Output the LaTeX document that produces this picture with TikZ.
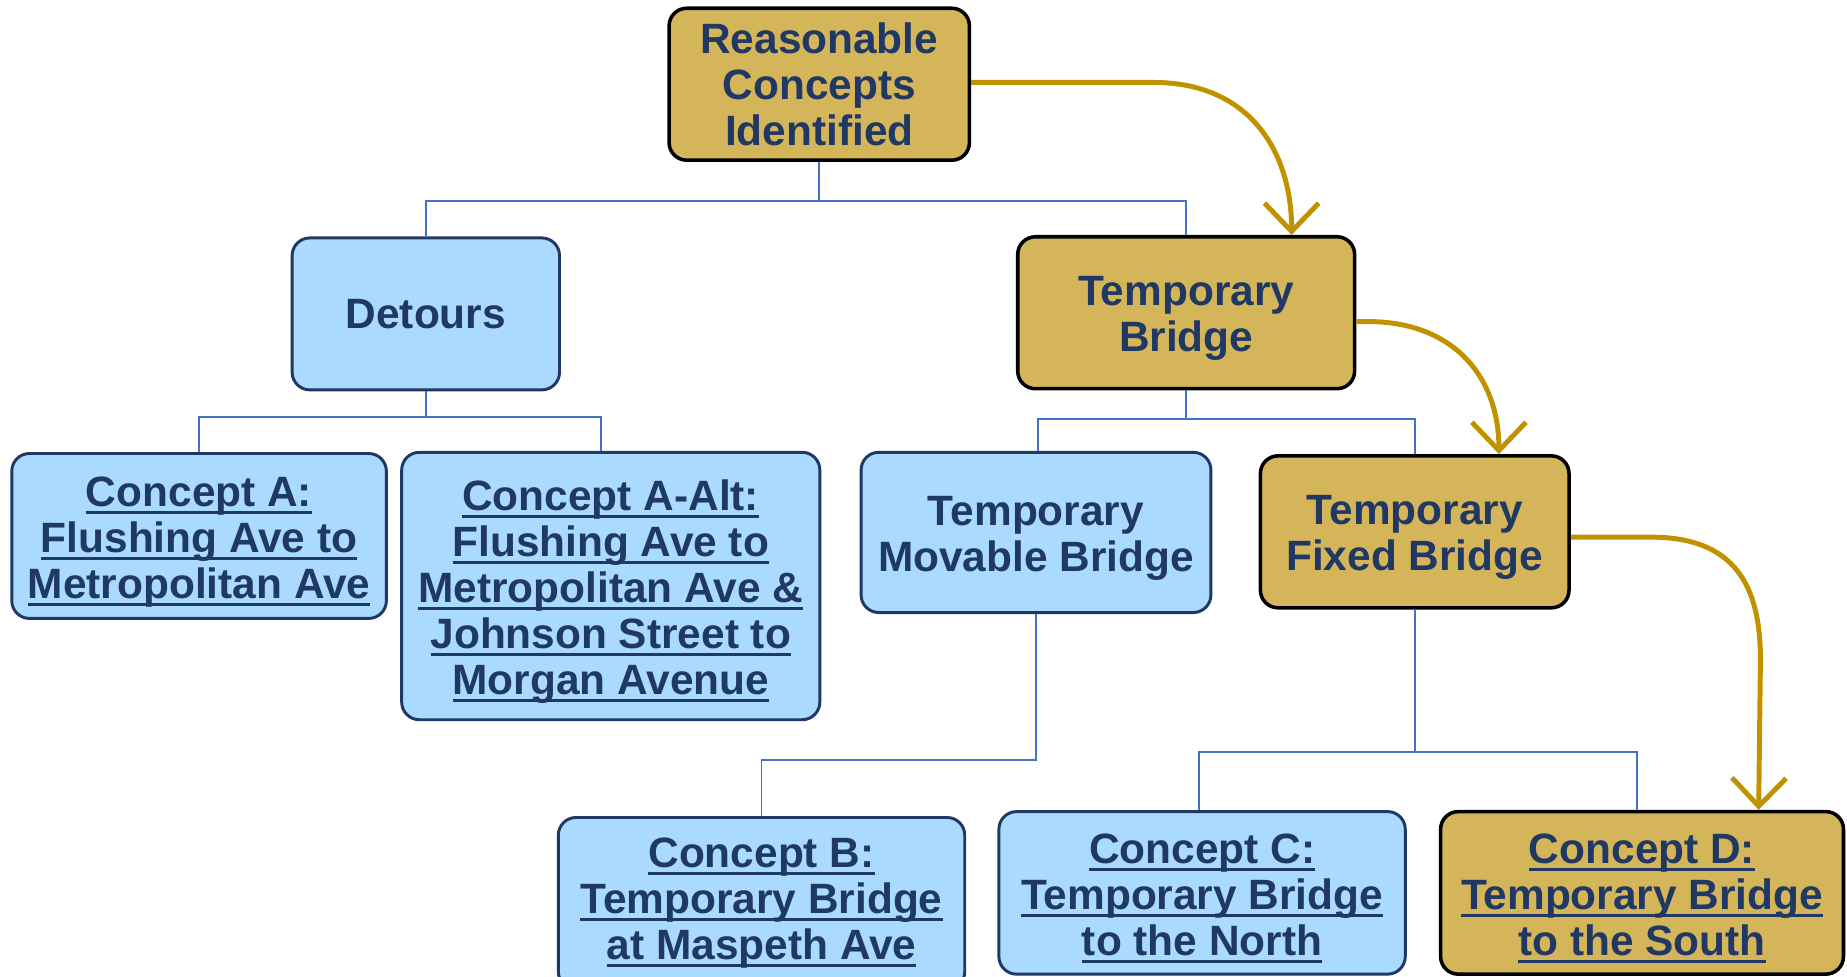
\documentclass[tikz,border=0pt]{standalone}
\usepackage{fontspec}
\setmainfont{Liberation Sans}
\usetikzlibrary{arrows.meta,calc}
\definecolor{goldfill}{RGB}{212,181,90}
\definecolor{bluefill}{RGB}{170,218,255}
\definecolor{navy}{RGB}{31,56,100}
\definecolor{connblue}{RGB}{68,114,196}
\definecolor{arrowgold}{RGB}{193,146,0}
\newcommand{\ulin}[1]{\setbox0\hbox{#1}\rlap{\rule[-3.2pt]{\wd0}{1.3pt}}\box0}
\newcommand{\lowr}{\rule{0pt}{17.5pt}}
\begin{document}
\begin{tikzpicture}[x=0.5pt,y=-0.5pt,
 box/.style={rounded corners=7.5pt, align=center, font=\fontsize{18}{19.5}\selectfont\bfseries, text=navy, inner sep=0pt},
 goldbox/.style={box, fill=goldfill, draw=black, line width=1.5pt},
 bluebox/.style={box, fill=bluefill, draw=navy, line width=1.25pt},
 conn/.style={draw=connblue, line width=0.8pt},
 garrow/.style={draw=arrowgold, line width=2.1pt, -{Straight Barb[length=12pt,width=23pt]}}]
\useasboundingbox (0,0) rectangle (1568,829);

\node[goldbox, minimum width=127.5pt, minimum height=64.5pt] (rc) at (695.5,71.5) {Reasonable\\Concepts\\Identified};
\node[bluebox, minimum width=113.5pt, minimum height=64.5pt] (det) at (361.5,266.5) {Detours};
\node[goldbox, minimum width=143pt, minimum height=64.5pt] (tb) at (1007,265.5) {\lowr Temporary\\Bridge};
\node[bluebox, minimum width=159pt, minimum height=70pt] (ca) at (169,455) {\lowr\ulin{Concept A:}\\\ulin{Flushing Ave to}\\\ulin{Metropolitan Ave}};
\node[bluebox, minimum width=177.5pt, minimum height=113.5pt] (caa) at (518.5,497.5) {\lowr\ulin{Concept A-Alt:}\\\ulin{Flushing Ave to}\\\ulin{Metropolitan Ave \&}\\\ulin{Johnson Street to}\\\ulin{Morgan Avenue}};
\node[bluebox, minimum width=148.5pt, minimum height=68pt] (mv) at (879.5,452) {\lowr Temporary\\Movable Bridge};
\node[goldbox, minimum width=131pt, minimum height=64.5pt] (fx) at (1201,451.5) {\lowr Temporary\\Fixed Bridge};
\node[bluebox, minimum width=172.5pt, minimum height=73pt] (cb) at (646.5,767) {\ulin{Concept B:}\\\ulin{Temporary Bridge}\\\ulin{at Maspeth Ave}};
\node[bluebox, minimum width=172.5pt, minimum height=69pt] (cc) at (1020.5,758) {\lowr\ulin{Concept C:}\\\ulin{Temporary Bridge}\\\ulin{to the North}};
\node[goldbox, minimum width=171pt, minimum height=69pt] (cd) at (1394,758) {\lowr\ulin{Concept D:}\\\ulin{Temporary Bridge}\\\ulin{to the South}};

% tree connectors
\draw[conn] (rc.south) -- ++(0,33) -| (det.north);
\draw[conn] (rc.south) -- ++(0,33) -| (tb.north);
\draw[conn] (det.south) -- ++(0,22) -| (ca.north);
\draw[conn] (det.south) -- ++(0,22) -| ([xshift=-4pt]caa.north);
\draw[conn] (tb.south) -- ++(0,24) -| ([xshift=0.75pt]mv.north);
\draw[conn] (tb.south) -- ++(0,24) -| (fx.north);
\draw[conn] (mv.south) -- ++(0,124) -| (cb.north);
\draw[conn] (fx.south) -- ++(0,121) -| ([xshift=-1.25pt]cc.north);
\draw[conn] (fx.south) -- ++(0,121) -| ([xshift=-2pt]cd.north);

% gold arrows
\draw[garrow] ([yshift=0.75pt]rc.east) -- ++(155,0) .. controls +(82,0) and +(0,-70) .. ([xshift=-27.5pt]tb.north east);
\draw[garrow] ([yshift=-3.75pt]tb.east) -- ++(10,0) .. controls +(72,0) and +(0,-66) .. ([xshift=-30.5pt]fx.north east);
\draw[garrow] ([yshift=-2.25pt]fx.east) -- ++(68,0) .. controls +(72,0) and +(0,-62) .. ++(93,104) -- ([xshift=49.5pt]cd.north);
\end{tikzpicture}
\end{document}
